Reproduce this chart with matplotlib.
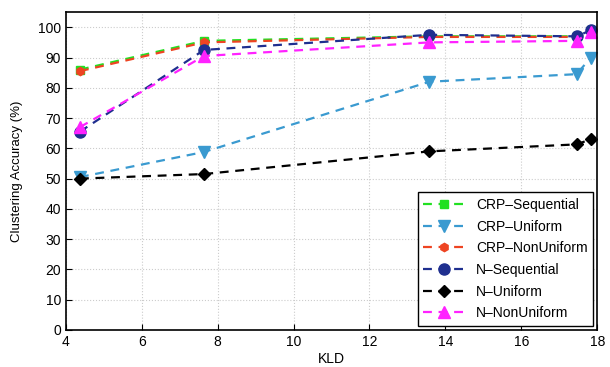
import numpy as np
import matplotlib
matplotlib.use("Agg")
import matplotlib.pyplot as plt

matplotlib.rcParams.update({'font.size': 10, 'font.family': ['Liberation Sans', 'DejaVu Sans']})

kld = [4.37, 7.64, 13.58, 17.46, 17.83]

crp_seq = [86, 95.5, 97, 97, 99]
crp_uni = [50.5, 58.8, 82, 84.5, 90]
crp_nonuni = [85.5, 95, 96.8, 96.8, 98.5]
n_seq = [65.5, 92.5, 97.5, 97, 99]
n_uni = [50, 51.5, 59, 61.3, 63]
n_nonuni = [67, 90.5, 95, 95.5, 98.5]

labels = ['CRP\u2013Sequential', 'CRP\u2013Uniform', 'CRP\u2013NonUniform',
          'N\u2013Sequential', 'N\u2013Uniform', 'N\u2013NonUniform']

fig = plt.figure(figsize=(6.1, 3.67), dpi=100)
ax = fig.add_axes([0.108, 0.101, 0.871, 0.866])

# style per series: color, marker, marker size
styles = [
    ('#22e022', 's', 6),
    ('#3a9ad0', 'v', 8),
    ('#ee4422', 'h', 6),
    ('#1f2f8f', 'o', 8),
    ('black', 'D', 6),
    ('#ff22ff', '^', 8),
]
series = [crp_seq, crp_uni, crp_nonuni, n_seq, n_uni, n_nonuni]

for vals, (c, m, ms), lab in zip(series, styles, labels):
    ln, = ax.plot(kld, vals, color=c, lw=1.6,
                  marker=m, markersize=ms, markerfacecolor=c, markeredgecolor=c, label=lab)
    ln.set_dashes((4, 3))

ax.set_xlim(4, 18)
ax.set_ylim(0, 105)
ax.set_xticks(np.arange(4, 19, 2))
ax.set_yticks(np.arange(0, 101, 10))
ax.grid(True, linestyle=':', color='#cccccc', lw=0.8)
ax.tick_params(direction='in', length=4, labelsize=10)
for s in ax.spines.values():
    s.set_linewidth(1.2)

ax.set_xlabel('KLD', fontsize=10)
ax.xaxis.set_label_coords(0.5, -0.07)
ax.set_ylabel('Clustering Accuracy (%)', fontsize=9.5)
ax.yaxis.set_label_coords(-0.08, 0.5)

leg = ax.legend(loc='lower right', fontsize=10, fancybox=False, edgecolor='black',
                framealpha=1, handlelength=3, borderaxespad=0.3, labelspacing=0.55)
leg.get_frame().set_linewidth(1.0)

fig.savefig('out.png', dpi=100)
